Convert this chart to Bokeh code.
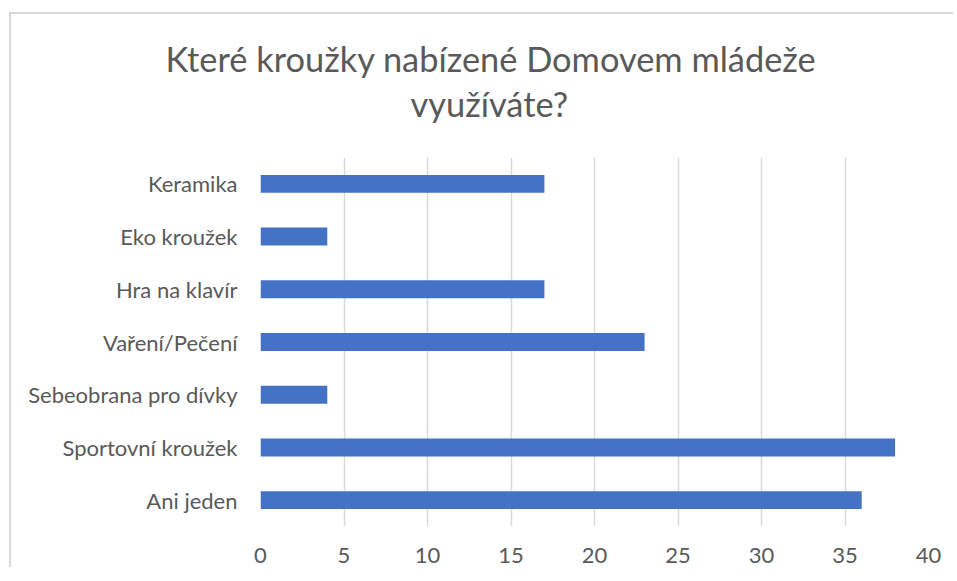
from bokeh.plotting import figure
from bokeh.models import Title, FixedTicker, ColumnDataSource
from bokeh.embed import file_html
from bokeh.resources import INLINE

categories = ["Keramika", "Eko kroužek", "Hra na klavír", "Vaření/Pečení",
              "Sebeobrana pro dívky", "Sportovní kroužek", "Ani jeden"]
values = [17, 4, 17, 23, 4, 38, 36]
x_ticks = [0, 5, 10, 15, 20, 25, 30, 35, 40]
title_lines = ["Které kroužky nabízené Domovem mládeže", "využíváte?"]

FONT = "Lato"
GREY = "#595959"

src = ColumnDataSource(dict(cat=categories, val=values))

p = figure(width=944, height=555, output_backend="svg", toolbar_location=None,
           y_range=list(reversed(categories)), x_range=(0, 40),
           min_border_left=249, min_border_right=27, min_border_top=143,
           min_border_bottom=43, title=None)
p.margin = (12, 0, 0, 9)
p.styles = {"border-left": "2px solid #d9d9d9", "border-top": "2px solid #d9d9d9",
            "border-right": "none", "border-bottom": "none"}

p.hbar(y="cat", right="val", left=0, height=0.34, source=src,
       fill_color="#4472C4", line_color=None)

p.outline_line_color = None
p.xgrid.grid_line_color = "#d9d9d9"
p.xgrid.grid_line_width = 1.5
p.ygrid.grid_line_color = None
p.xaxis.ticker = FixedTicker(ticks=x_ticks)
for ax in (p.xaxis[0], p.yaxis[0]):
    ax.axis_line_color = None
    ax.major_tick_line_color = None
    ax.minor_tick_line_color = None
    ax.major_label_text_font = FONT
    ax.major_label_text_color = GREY
    ax.major_label_text_font_size = "22px"
p.xaxis.major_label_standoff = 15
p.yaxis.major_label_standoff = 17

# spacer between the title block and the plot area
p.add_layout(Title(text=" ", text_font=FONT, text_font_size="10px",
                   standoff=17.5), "above")
offsets = [-95, 150]
standoffs = [0, 4]
for t, off, so in reversed(list(zip(title_lines, offsets, standoffs))):
    p.add_layout(Title(text=t, align="left", offset=off, text_font=FONT,
                       text_font_size="34.4px", text_color=GREY,
                       text_font_style="normal", standoff=so), "above")

open("out.html", "w").write(file_html(p, INLINE))
